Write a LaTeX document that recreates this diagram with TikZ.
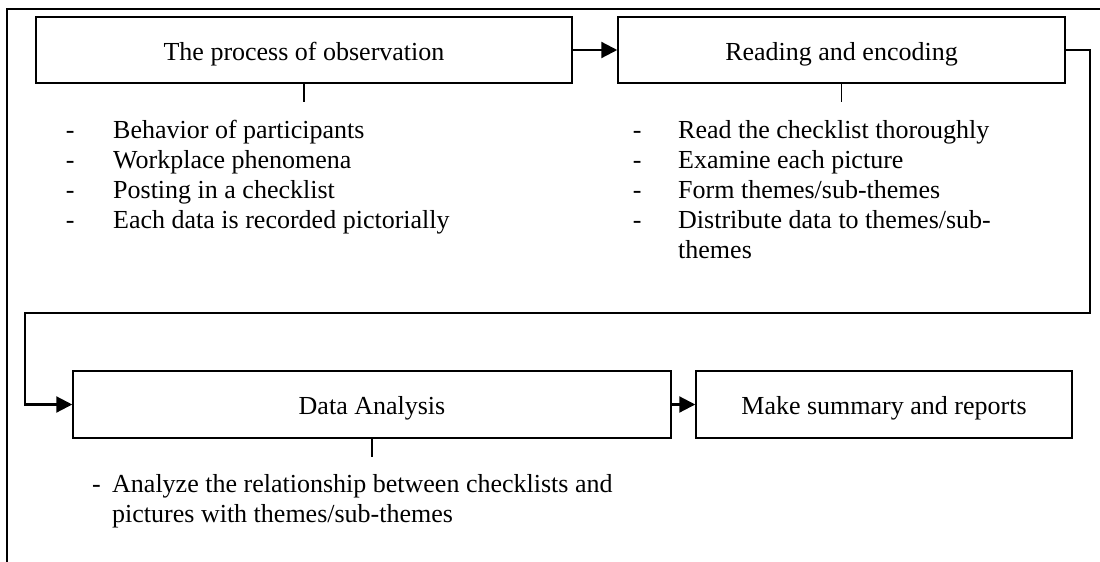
\documentclass[tikz,border=0pt]{standalone}
\usepackage{fontspec}
\setmainfont{Liberation Serif}
\usetikzlibrary{arrows.meta}
\newcommand{\diagfont}{\fontsize{26}{30}\selectfont}
\begin{document}
\begin{tikzpicture}[x=1pt,y=-1pt,
  box/.style={draw, line width=1.5pt, inner xsep=0pt, inner ysep=0pt,
    text height=20pt, text depth=0pt, font=\diagfont},
  item/.style={anchor=base west, inner sep=0pt, font=\diagfont},
  conn/.style={line width=2.2pt, -{Triangle[length=16pt,width=16pt]}},
  stub/.style={line width=1.4pt},
  frame/.style={line width=1.8pt}]
\useasboundingbox (0,0) rectangle (1100,562);
% page frame
\coordinate (fb) at (7,563);
\coordinate (fc) at (7,9);
\coordinate (fr) at (1101,9);
\draw[frame] (fb) -- (fc) -- (fr);
% boxes
\node[box, minimum width=536pt, minimum height=66pt] (b1) at (304,50) {The process of observation};
\node[box, minimum width=447pt, minimum height=66pt] (b2) at (841.5,50) {Reading and encoding};
\node[box, minimum width=598pt, minimum height=67pt] (b3) at (372,404.5) {Data Analysis};
\node[box, minimum width=376pt, minimum height=67pt] (b4) at (884,404.5) {Make summary and reports};
% connectors
\draw[conn] (b1) -- (b2);
\coordinate (r1) at (1090,313);
\coordinate (l1) at (25,313);
\draw[conn] (b2.east) -| (r1) -- (l1) |- (b3.west);
\draw[conn] (b3) -- (b4);
% stubs
\coordinate (s1) at (304,102);
\coordinate (s2) at (841.5,102);
\coordinate (s3) at (372,457);
\draw[stub] (b1.south) -- (s1);
\draw[stub] (b2.south) -- (s2);
\draw[stub] (b3.south) -- (s3);
% list 1
\node[item] (o1) at (65.7,138) {\makebox[47.3pt][l]{-}Behavior of participants};
\node[item] (o2) at (65.7,168) {\makebox[47.3pt][l]{-}Workplace phenomena};
\node[item] (o3) at (65.7,198) {\makebox[47.3pt][l]{-}Posting in a checklist};
\node[item] (o4) at (65.7,228) {\makebox[47.3pt][l]{-}Each data is recorded pictorially};
% list 2
\node[item] (e1) at (632.7,138) {\makebox[45.3pt][l]{-}Read the checklist thoroughly};
\node[item] (e2) at (632.7,168) {\makebox[45.3pt][l]{-}Examine each picture};
\node[item] (e3) at (632.7,198) {\makebox[45.3pt][l]{-}Form themes/sub-themes};
\node[item] (e4) at (632.7,228) {\makebox[45.3pt][l]{-}Distribute data to themes/sub-};
\node[item] (e5) at (678,258) {themes};
% list 3
\node[item] (a1) at (92,492) {\makebox[20pt][l]{-}Analyze the relationship between checklists and};
\node[item] (a2) at (112,522) {pictures with themes/sub-themes};
\end{tikzpicture}
\end{document}
